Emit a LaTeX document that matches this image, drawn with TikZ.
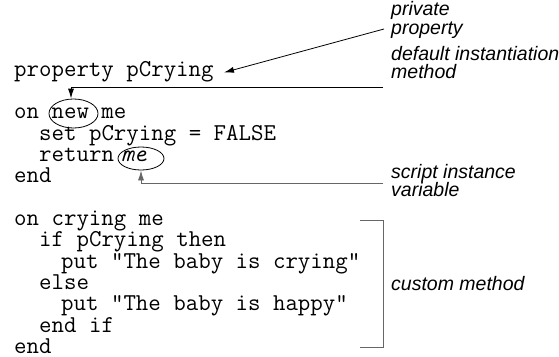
\documentclass[tikz,border=0pt]{standalone}
\usepackage{fontspec}
\setmainfont{Liberation Serif}
\newfontfamily\labfont{Liberation Sans}
\usetikzlibrary{arrows.meta,shapes.geometric}
\tikzset{
  codeline/.style={anchor=base west, inner sep=0pt, font=\ttfamily\fontsize{24.2}{24}\selectfont},
  codeit/.style={anchor=base west, inner sep=0pt, font=\ttfamily\itshape\fontsize{24.2}{24}\selectfont},
  labline/.style={anchor=base west, inner sep=0pt, font=\labfont\itshape\fontsize{19.5}{19}\selectfont},
  ring/.style={draw, ellipse, inner sep=0pt, line width=0.8pt},
  arr/.style={line width=0.8pt, -{Latex[length=10pt,width=6pt]}},
  greyline/.style={draw=black!60, line width=0.9pt},
}
\begin{document}
\begin{tikzpicture}[x=1pt,y=-1pt]
\useasboundingbox (0,0) rectangle (559,356);
% code, first block
\node[codeline] (l1) at (14,76) {property pCrying};
\node[codeline] (l2) at (14,118.7) {on new me};
\node[codeline] (l3) at (39,140) {set pCrying = FALSE};
\node[codeline] (l4) at (39,161.3) {return};
\node[codeit]   (l4b) at (121,161.3) {me};
\node[codeline] (l5) at (14,182.7) {end};
% code, second block
\node[codeline] (m1) at (14,225.3) {on crying me};
\node[codeline] (m2) at (39,246.7) {if pCrying then};
\node[codeline] (m3) at (61,268) {put "The baby is crying"};
\node[codeline] (m4) at (39,289.3) {else};
\node[codeline] (m5) at (61,310.7) {put "The baby is happy"};
\node[codeline] (m6) at (39,332) {end if};
\node[codeline] (m7) at (14,353.3) {end};
% ellipses
\node[ring, minimum width=49pt, minimum height=29pt] (newell) at (73.5,113.5) {};
\node[ring, minimum width=46pt, minimum height=23pt] (meell) at (141,158.5) {};
% labels
\node[labline] (pa) at (391,16) {private};
\node[labline] (pb) at (391,34) {property};
\node[labline] (da) at (391,60) {default instantiation};
\node[labline] (db) at (391,78) {method};
\node[labline] (sa) at (391,178) {script instance};
\node[labline] (sb) at (391,196) {variable};
\node[labline] (ca) at (391,290) {custom method};
% connector ends
\coordinate (c1) at (384,29);
\coordinate (c2) at (383,87.5);
\coordinate (c3) at (383,183);
\coordinate (t1) at (224,72.5);
\coordinate (b1) at (360,220);
\coordinate (b2) at (383,220);
\coordinate (b3) at (383,347);
\coordinate (b4) at (360,347);
% connectors
\draw[arr] (c1) -- (t1);
\draw[arr] (c2) -| ([xshift=-2.5pt]newell.north);
\draw[arr, draw=black!60] (c3) -| (meell.south);
\draw[greyline] (b1) -- (b2) -- (b3) -- (b4);
\end{tikzpicture}
\end{document}
